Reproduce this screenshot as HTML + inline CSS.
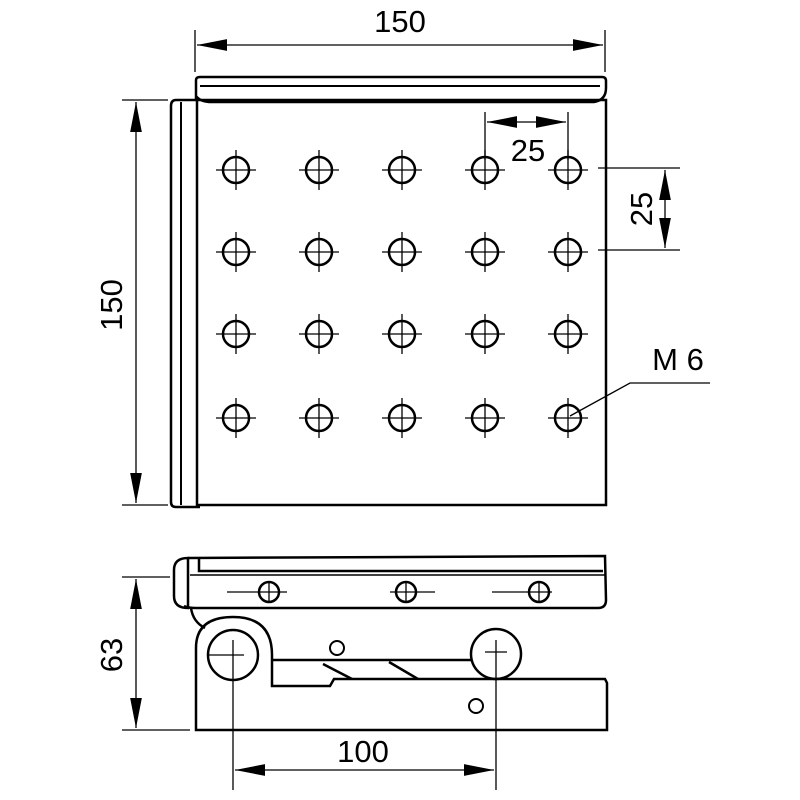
<!DOCTYPE html>
<html><head><style>body{margin:0;background:#fff}svg{display:block}</style></head><body>
<svg width="800" height="800" viewBox="0 0 800 800" xmlns="http://www.w3.org/2000/svg">
<defs>
<marker id="b" viewBox="0 0 10 10" refX="10" refY="5" markerWidth="30" markerHeight="13" markerUnits="userSpaceOnUse" orient="auto-start-reverse" preserveAspectRatio="none"><path d="M0,0.5 L10,5 L0,9.5 Z" fill="#000"/></marker>
</defs>
<g fill="none" stroke="#000" stroke-width="2.5">
<path d="M196,100 L196,80 Q196,77 200,77 L602,77 Q606,77 606,81 L606,88 Q606,100 594,102 L212,102 Q200,102 196,96"/>
<line x1="200" y1="86" x2="600" y2="86" stroke-width="2"/>
<rect x="197" y="100" width="409" height="405"/>
<path d="M196,100 L176,100 Q171,100 171,106 L171,502 Q171,507 176,507 L200,507"/>
<line x1="181" y1="102" x2="181" y2="505" stroke-width="2"/>
</g>
<g fill="none" stroke="#000" stroke-width="2.5">
<circle cx="236" cy="170" r="13"/><circle cx="319" cy="170" r="13"/><circle cx="402" cy="170" r="13"/><circle cx="485" cy="170" r="13"/><circle cx="568" cy="170" r="13"/>
<circle cx="236" cy="252" r="13"/><circle cx="319" cy="252" r="13"/><circle cx="402" cy="252" r="13"/><circle cx="485" cy="252" r="13"/><circle cx="568" cy="252" r="13"/>
<circle cx="236" cy="334" r="13"/><circle cx="319" cy="334" r="13"/><circle cx="402" cy="334" r="13"/><circle cx="485" cy="334" r="13"/><circle cx="568" cy="334" r="13"/>
<circle cx="236" cy="418" r="13"/><circle cx="319" cy="418" r="13"/><circle cx="402" cy="418" r="13"/><circle cx="485" cy="418" r="13"/><circle cx="568" cy="418" r="13"/>
</g>
<g stroke="#000" stroke-width="1.3">
<path d="M216,170h40M299,170h40M382,170h40M465,170h40M548,170h40M216,252h40M299,252h40M382,252h40M465,252h40M548,252h40M216,334h40M299,334h40M382,334h40M465,334h40M548,334h40M216,418h40M299,418h40M382,418h40M465,418h40M548,418h40"/>
<path d="M236,150v40M319,150v40M402,150v40M485,150v40M568,150v40M236,232v40M319,232v40M402,232v40M485,232v40M568,232v40M236,314v40M319,314v40M402,314v40M485,314v40M568,314v40M236,398v40M319,398v40M402,398v40M485,398v40M568,398v40"/>
<line x1="195" y1="30" x2="195" y2="72"/><line x1="605" y1="30" x2="605" y2="72"/>
<line x1="197" y1="45" x2="603" y2="45" marker-start="url(#b)" marker-end="url(#b)"/>
<line x1="122" y1="100" x2="168" y2="100"/><line x1="122" y1="505" x2="168" y2="505"/>
<line x1="136" y1="102" x2="136" y2="503" marker-start="url(#b)" marker-end="url(#b)"/>
<line x1="485" y1="112" x2="485" y2="160"/><line x1="568" y1="112" x2="568" y2="160"/>
<line x1="487" y1="122" x2="566" y2="122" marker-start="url(#b)" marker-end="url(#b)"/>
<line x1="598" y1="168" x2="680" y2="168"/><line x1="598" y1="250" x2="680" y2="250"/>
<line x1="665" y1="170" x2="665" y2="248" marker-start="url(#b)" marker-end="url(#b)"/>
<polyline points="570,416 630,383 710,383" fill="none"/>
<line x1="122" y1="577" x2="170" y2="577"/><line x1="122" y1="730" x2="190" y2="730"/>
<line x1="136" y1="579" x2="136" y2="728" marker-start="url(#b)" marker-end="url(#b)"/>
<line x1="233" y1="640" x2="233" y2="790"/><line x1="496" y1="640" x2="496" y2="790"/>
<line x1="235" y1="770" x2="494" y2="770" marker-start="url(#b)" marker-end="url(#b)"/>
<path d="M227,592h60M390,592h45M492,592h60M209,655h35M485,652h22"/>
<path d="M269,582v20M406,582v20M539,582v20"/>
</g>
<g fill="none" stroke="#000" stroke-width="2.5">
<path d="M188,558 L605,556 L606,600 Q606,608 598,608 L196,608 Q188,608 184,606"/>
<path d="M188,558 Q174,558 174,570 L174,596 Q174,608 188,608 Q188,558 188,558Z"/>
<path d="M199,558 L199,571 L603,571"/>
<line x1="190" y1="575" x2="605" y2="575" stroke-width="1.5"/>
<path d="M191,608 Q193,622 205,628"/>
<path d="M196,730 L196,648 Q196,617 233,617 Q272,617 272,655 L272,686 L330,686 L334,679 L605,679 L607,683 L607,730 Z"/>
<path d="M272,660 L472,660"/>
<path d="M323,664 L352,679 M389,662 L418,679"/>
<circle cx="233" cy="655" r="25"/>
<circle cx="496" cy="654" r="25"/>
<circle cx="269" cy="592" r="10"/><circle cx="406" cy="592" r="10"/><circle cx="539" cy="592" r="10"/>
<circle cx="337" cy="648" r="7" stroke-width="2"/><circle cx="476" cy="706" r="7" stroke-width="2"/>
</g>
<g font-family="Liberation Sans, sans-serif" font-size="31" fill="#000">
<text x="400" y="32" text-anchor="middle">150</text>
<text x="528" y="161" text-anchor="middle">25</text>
<text x="678" y="370" text-anchor="middle">M 6</text>
<text x="363" y="762" text-anchor="middle">100</text>
<text transform="translate(122,305) rotate(-90)" text-anchor="middle">150</text>
<text transform="translate(652,209) rotate(-90)" text-anchor="middle">25</text>
<text transform="translate(122,655) rotate(-90)" text-anchor="middle">63</text>
</g>
</svg>
</body></html>
